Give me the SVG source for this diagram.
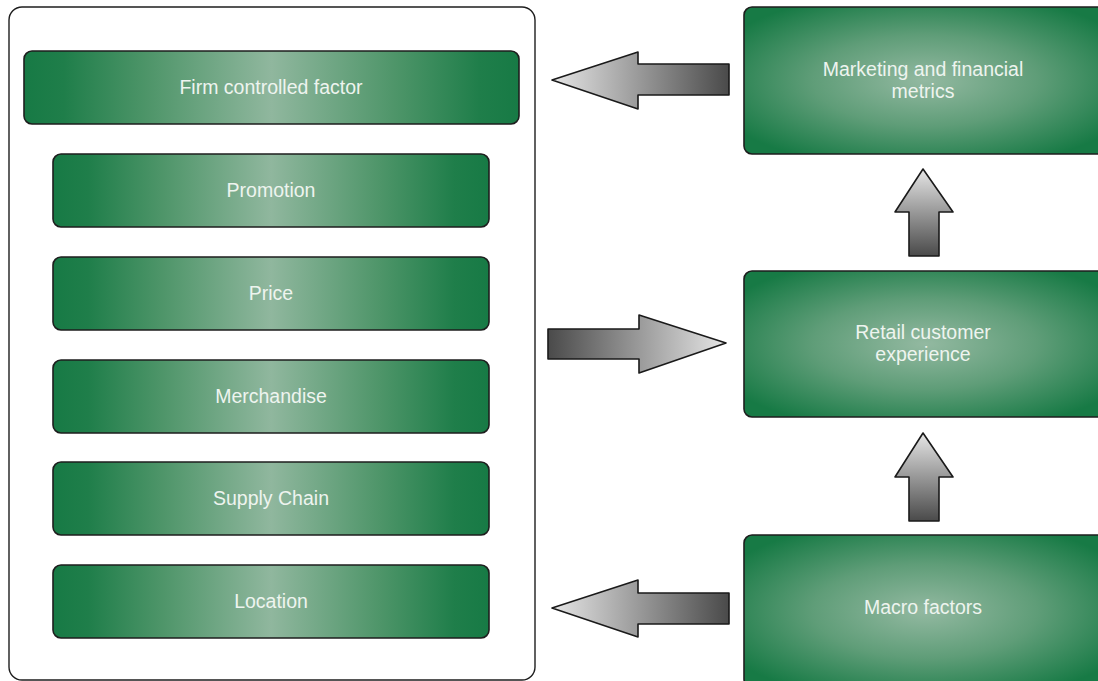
<svg xmlns="http://www.w3.org/2000/svg" width="1098" height="681" viewBox="0 0 1098 681">
<defs>
<linearGradient id="gbar" x1="0" y1="0" x2="1" y2="0">
<stop offset="0" stop-color="#177a45"/>
<stop offset="0.08" stop-color="#1f7e4a"/>
<stop offset="0.25" stop-color="#4e9569"/>
<stop offset="0.5" stop-color="#90b79e"/>
<stop offset="0.75" stop-color="#4e9569"/>
<stop offset="0.92" stop-color="#1f7e4a"/>
<stop offset="1" stop-color="#177a45"/>
</linearGradient>
<radialGradient id="gbox" cx="0.5" cy="0.5" r="0.62" gradientUnits="objectBoundingBox">
<stop offset="0" stop-color="#93b9a1"/>
<stop offset="0.5" stop-color="#5f9d78"/>
<stop offset="1" stop-color="#177a45"/>
</radialGradient>
<linearGradient id="gLeft" x1="0" y1="0" x2="1" y2="0">
<stop offset="0" stop-color="#e6e6e6"/>
<stop offset="1" stop-color="#4a4a4a"/>
</linearGradient>
<linearGradient id="gRight" x1="0" y1="0" x2="1" y2="0">
<stop offset="0" stop-color="#4a4a4a"/>
<stop offset="1" stop-color="#e6e6e6"/>
</linearGradient>
<linearGradient id="gUp" x1="0" y1="0" x2="0" y2="1">
<stop offset="0" stop-color="#e6e6e6"/>
<stop offset="1" stop-color="#4a4a4a"/>
</linearGradient>
<style>
.bar{fill:url(#gbar);stroke:#1e1e1e;stroke-width:1.6}
.box{fill:url(#gbox);stroke:#1e1e1e;stroke-width:1.6}
.lbl{font-family:"Liberation Sans",Arial,sans-serif;font-size:19.5px;fill:#eef4ef;text-anchor:middle}
.arr{stroke:#1a1a1a;stroke-width:1.6;stroke-linejoin:round}
</style>
</defs>
<rect width="1098" height="681" fill="#ffffff"/>
<g id="container">
<rect x="9" y="7" width="526" height="673" rx="13" fill="#ffffff" stroke="#1e1e1e" stroke-width="1.4"/>
</g>
<g id="firm"><rect class="bar" x="24" y="51" width="495" height="73" rx="8"/><text class="lbl" x="271" y="94">Firm controlled factor</text></g>
<g id="promotion"><rect class="bar" x="53" y="154" width="436" height="73" rx="8"/><text class="lbl" x="271" y="197">Promotion</text></g>
<g id="price"><rect class="bar" x="53" y="257" width="436" height="73" rx="8"/><text class="lbl" x="271" y="300">Price</text></g>
<g id="merchandise"><rect class="bar" x="53" y="360" width="436" height="73" rx="8"/><text class="lbl" x="271" y="403">Merchandise</text></g>
<g id="supply"><rect class="bar" x="53" y="462" width="436" height="73" rx="8"/><text class="lbl" x="271" y="505">Supply Chain</text></g>
<g id="location"><rect class="bar" x="53" y="565" width="436" height="73" rx="8"/><text class="lbl" x="271" y="608">Location</text></g>
<g id="metrics"><rect class="box" x="744" y="7" width="362" height="147" rx="8"/><text class="lbl" x="923" y="76">Marketing and financial</text><text class="lbl" x="923" y="98">metrics</text></g>
<g id="retail"><rect class="box" x="744" y="271" width="362" height="146" rx="8"/><text class="lbl" x="923" y="339">Retail customer</text><text class="lbl" x="923" y="361">experience</text></g>
<g id="macro"><rect class="box" x="744" y="535" width="362" height="152" rx="8"/><text class="lbl" x="923" y="614">Macro factors</text></g>
<g id="connectors">
<polygon class="arr" fill="url(#gLeft)" points="552,80 638,52 638,64 729,64 729,95 638,95 638,109"/>
<polygon class="arr" fill="url(#gRight)" points="548,329 639,329 639,315 726,343 639,373 639,359 548,359"/>
<polygon class="arr" fill="url(#gLeft)" points="552,608 638,580 638,593 729,593 729,624 638,624 638,637"/>
<polygon class="arr" fill="url(#gUp)" points="923,169 953,212 939,212 939,256 909,256 909,212 895,212"/>
<polygon class="arr" fill="url(#gUp)" points="923,433 953,477 939,477 939,521 909,521 909,477 895,477"/>
</g>
</svg>
